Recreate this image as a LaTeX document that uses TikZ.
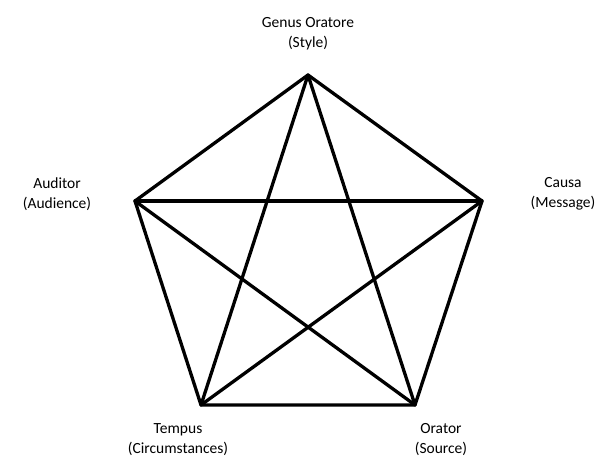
\documentclass[tikz,border=0pt]{standalone}
\usepackage{fontspec}
\setmainfont{Carlito}
\usetikzlibrary{positioning}
\tikzset{
  edge/.style={draw, line width=3.3pt, line cap=round, line join=round},
  tag/.style={align=center, font=\fontsize{15.5}{20}\selectfont, inner sep=0pt}
}

\begin{document}
\begin{tikzpicture}[x=1pt,y=-1pt]
      \useasboundingbox (0,0) rectangle (600,464);

      % corners of the pentagon
      \coordinate (genus) at (308,75);
      \coordinate (auditor) at (135,201);
      \coordinate (causa) at (482,201);
      \coordinate (tempus) at (201,405);
      \coordinate (orator) at (415,405);

      % labels
      \node[tag] (lgenus) at (308,34) {Genus Oratore\\(Style)};
      \node[tag] (lauditor) at (57,194) {Auditor\\(Audience)};
      \node[tag] (lcausa) at (563,194) {Causa\\(Message)};
      \node[tag] (ltempus) at (178,440) {Tempus\\(Circumstances)};
      \node[tag] (lorator) at (441,440) {Orator\\(Source)};

      % outer pentagon
      \draw[edge] (genus) -- (causa) -- (orator) -- (tempus) -- (auditor) -- cycle;

      % inner star
      \draw[edge] (genus) -- (tempus);
      \draw[edge] (genus) -- (orator);
      \draw[edge] (auditor) -- (causa);
      \draw[edge] (auditor) -- (orator);
      \draw[edge] (causa) -- (tempus);
    \end{tikzpicture}
\end{document}
